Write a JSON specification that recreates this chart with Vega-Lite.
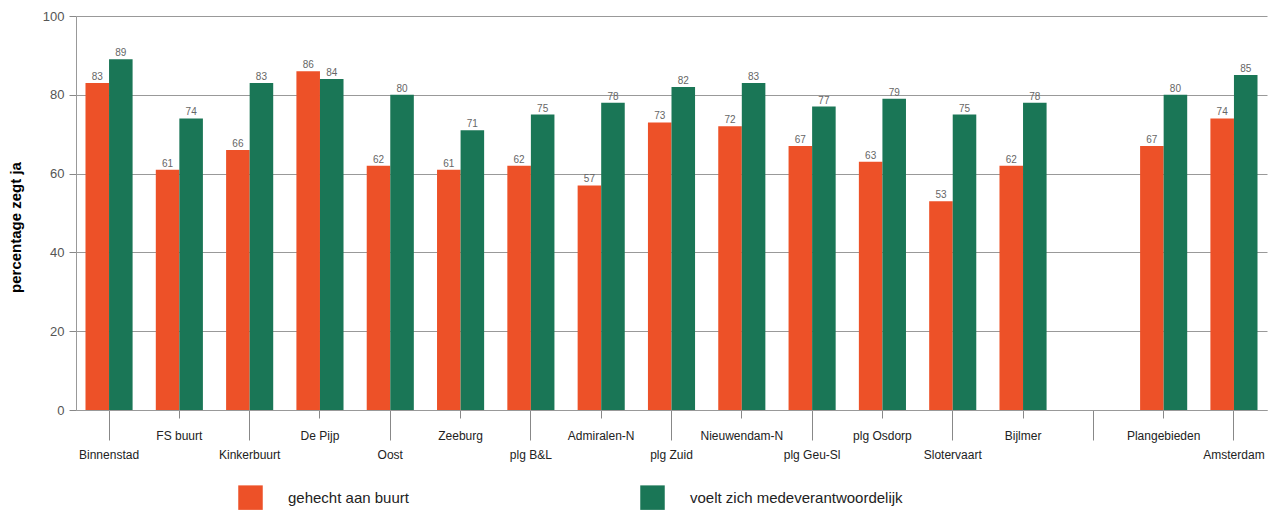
{
  "$schema": "https://vega.github.io/schema/vega-lite/v6.json",
  "width": 1191,
  "height": 394,
  "padding": {"left": 8, "top": 10, "right": 10, "bottom": 3},
  "config": {"font": "Liberation Sans", "view": {"stroke": null}},
  "data": {"values": [
    {"buurt": "Binnenstad", "serie": "gehecht aan buurt", "pct": 83},
    {"buurt": "Binnenstad", "serie": "voelt zich medeverantwoordelijk", "pct": 89},
    {"buurt": "FS buurt", "serie": "gehecht aan buurt", "pct": 61},
    {"buurt": "FS buurt", "serie": "voelt zich medeverantwoordelijk", "pct": 74},
    {"buurt": "Kinkerbuurt", "serie": "gehecht aan buurt", "pct": 66},
    {"buurt": "Kinkerbuurt", "serie": "voelt zich medeverantwoordelijk", "pct": 83},
    {"buurt": "De Pijp", "serie": "gehecht aan buurt", "pct": 86},
    {"buurt": "De Pijp", "serie": "voelt zich medeverantwoordelijk", "pct": 84},
    {"buurt": "Oost", "serie": "gehecht aan buurt", "pct": 62},
    {"buurt": "Oost", "serie": "voelt zich medeverantwoordelijk", "pct": 80},
    {"buurt": "Zeeburg", "serie": "gehecht aan buurt", "pct": 61},
    {"buurt": "Zeeburg", "serie": "voelt zich medeverantwoordelijk", "pct": 71},
    {"buurt": "plg B&L", "serie": "gehecht aan buurt", "pct": 62},
    {"buurt": "plg B&L", "serie": "voelt zich medeverantwoordelijk", "pct": 75},
    {"buurt": "Admiralen-N", "serie": "gehecht aan buurt", "pct": 57},
    {"buurt": "Admiralen-N", "serie": "voelt zich medeverantwoordelijk", "pct": 78},
    {"buurt": "plg Zuid", "serie": "gehecht aan buurt", "pct": 73},
    {"buurt": "plg Zuid", "serie": "voelt zich medeverantwoordelijk", "pct": 82},
    {"buurt": "Nieuwendam-N", "serie": "gehecht aan buurt", "pct": 72},
    {"buurt": "Nieuwendam-N", "serie": "voelt zich medeverantwoordelijk", "pct": 83},
    {"buurt": "plg Geu-Sl", "serie": "gehecht aan buurt", "pct": 67},
    {"buurt": "plg Geu-Sl", "serie": "voelt zich medeverantwoordelijk", "pct": 77},
    {"buurt": "plg Osdorp", "serie": "gehecht aan buurt", "pct": 63},
    {"buurt": "plg Osdorp", "serie": "voelt zich medeverantwoordelijk", "pct": 79},
    {"buurt": "Slotervaart", "serie": "gehecht aan buurt", "pct": 53},
    {"buurt": "Slotervaart", "serie": "voelt zich medeverantwoordelijk", "pct": 75},
    {"buurt": "Bijlmer", "serie": "gehecht aan buurt", "pct": 62},
    {"buurt": "Bijlmer", "serie": "voelt zich medeverantwoordelijk", "pct": 78},
    {"buurt": "Plangebieden", "serie": "gehecht aan buurt", "pct": 67},
    {"buurt": "Plangebieden", "serie": "voelt zich medeverantwoordelijk", "pct": 80},
    {"buurt": "Amsterdam", "serie": "gehecht aan buurt", "pct": 74},
    {"buurt": "Amsterdam", "serie": "voelt zich medeverantwoordelijk", "pct": 85}
  ]},
  "encoding": {
    "x": {
      "field": "buurt", "type": "nominal",
      "scale": {
        "domain": ["Binnenstad", "FS buurt", "Kinkerbuurt", "De Pijp", "Oost", "Zeeburg", "plg B&L", "Admiralen-N", "plg Zuid", "Nieuwendam-N", "plg Geu-Sl", "plg Osdorp", "Slotervaart", "Bijlmer", "_gap_", "Plangebieden", "Amsterdam"],
        "paddingInner": 0.33, "paddingOuter": 0.135
      },
      "axis": {
        "title": null,
        "labelAngle": 0,
        "labelFontSize": 12,
        "labelColor": "#222",
        "labelExpr": "datum.value == '_gap_' ? '' : datum.label",
        "domainColor": "#999",
        "tickColor": "#888",
        "tickSize": {"condition": {"test": "indexof(['FS buurt','De Pijp','Zeeburg','Admiralen-N','Nieuwendam-N','plg Osdorp','Bijlmer','Plangebieden'], datum.value) >= 0", "value": 8}, "value": 30},
        "labelPadding": {"condition": {"test": "indexof(['FS buurt','De Pijp','Zeeburg','Admiralen-N','Nieuwendam-N','plg Osdorp','Bijlmer','Plangebieden'], datum.value) >= 0", "value": 12}, "value": 9}
      }
    },
    "xOffset": {"field": "serie", "type": "nominal", "sort": ["gehecht aan buurt", "voelt zich medeverantwoordelijk"]},
    "y": {
      "field": "pct", "type": "quantitative",
      "scale": {"domain": [0, 100]},
      "axis": {
        "title": "percentage zegt ja",
        "titleFontSize": 15,
        "titleFontWeight": "bold",
        "titleColor": "#000",
        "titlePadding": 19,
        "titleY": 211,
        "values": [0, 20, 40, 60, 80, 100],
        "labelFontSize": 13,
        "labelColor": "#555",
        "labelPadding": 5,
        "tickSize": 7,
        "tickColor": "#888",
        "domainColor": "#999",
        "gridColor": "#999",
        "gridOpacity": 1
      }
    }
  },
  "layer": [
    {
      "mark": {"type": "bar"},
      "encoding": {
        "color": {
          "field": "serie", "type": "nominal",
          "scale": {"domain": ["gehecht aan buurt", "voelt zich medeverantwoordelijk"], "range": ["#ED5128", "#1A7656"]},
          "legend": {
            "orient": "none", "legendX": 162, "legendY": 469,
            "direction": "horizontal", "columns": 2, "title": null,
            "symbolType": "square", "symbolSize": 600, "symbolStrokeWidth": 0, "symbolOpacity": 1,
            "labelFontSize": 15, "labelOffset": 25, "columnPadding": 231, "labelColor": "#222", "labelLimit": 400
          }
        }
      }
    },
    {
      "mark": {"type": "text", "dy": -6, "fontSize": 10, "color": "#666"},
      "encoding": {"text": {"field": "pct", "type": "quantitative"}}
    }
  ]
}
